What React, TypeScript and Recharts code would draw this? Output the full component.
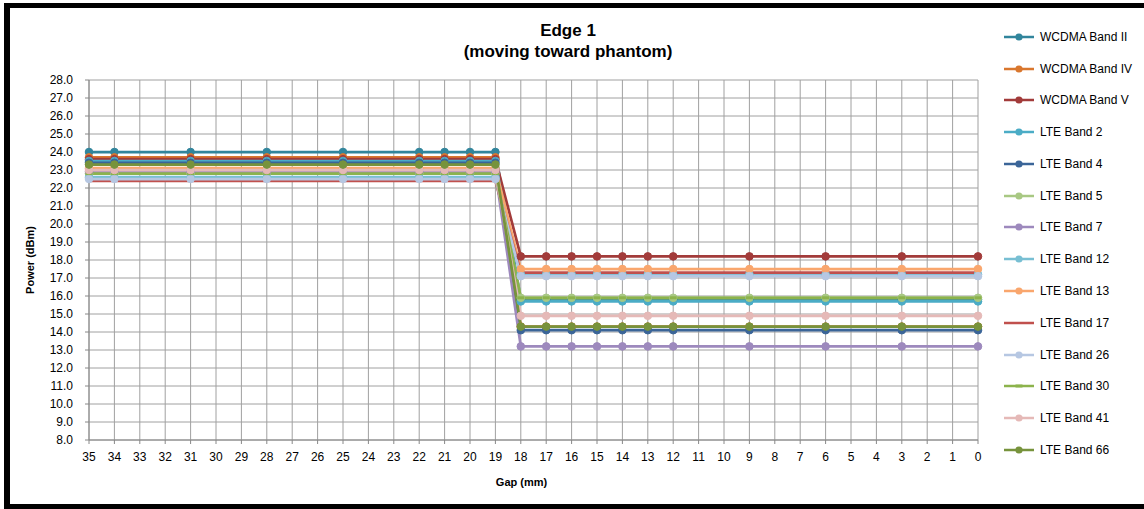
import { LineChart, Line, XAxis, YAxis, CartesianGrid } from "recharts"

// x axis categories, 35 mm down to 0 mm
const gapLabels = [
  "35", "34", "33", "32", "31", "30", "29", "28", "27", "26", "25", "24",
  "23", "22", "21", "20", "19", "18", "17", "16", "15", "14", "13", "12",
  "11", "10", "9", "8", "7", "6", "5", "4", "3", "2", "1", "0",
]

// gaps where a measurement was taken
const measuredGaps = ["35", "34", "31", "28", "25", "22", "21", "20", "19", "18", "17", "16", "15", "14", "13", "12", "9", "6", "3", "0"]

const wcdmaBandII = [24.0, 24.0, 24.0, 24.0, 24.0, 24.0, 24.0, 24.0, 24.0, 15.8, 15.8, 15.8, 15.8, 15.8, 15.8, 15.8, 15.8, 15.8, 15.8, 15.8]
const wcdmaBandIV = [23.7, 23.7, 23.7, 23.7, 23.7, 23.7, 23.7, 23.7, 23.7, 14.3, 14.3, 14.3, 14.3, 14.3, 14.3, 14.3, 14.3, 14.3, 14.3, 14.3]
const wcdmaBandV = [23.6, 23.6, 23.6, 23.6, 23.6, 23.6, 23.6, 23.6, 23.6, 18.2, 18.2, 18.2, 18.2, 18.2, 18.2, 18.2, 18.2, 18.2, 18.2, 18.2]
const lteBand2 = [23.5, 23.5, 23.5, 23.5, 23.5, 23.5, 23.5, 23.5, 23.5, 15.7, 15.7, 15.7, 15.7, 15.7, 15.7, 15.7, 15.7, 15.7, 15.7, 15.7]
const lteBand4 = [23.4, 23.4, 23.4, 23.4, 23.4, 23.4, 23.4, 23.4, 23.4, 14.1, 14.1, 14.1, 14.1, 14.1, 14.1, 14.1, 14.1, 14.1, 14.1, 14.1]
const lteBand5 = [22.8, 22.8, 22.8, 22.8, 22.8, 22.8, 22.8, 22.8, 22.8, 15.9, 15.9, 15.9, 15.9, 15.9, 15.9, 15.9, 15.9, 15.9, 15.9, 15.9]
const lteBand7 = [22.9, 22.9, 22.9, 22.9, 22.9, 22.9, 22.9, 22.9, 22.9, 13.2, 13.2, 13.2, 13.2, 13.2, 13.2, 13.2, 13.2, 13.2, 13.2, 13.2]
const lteBand12 = [22.6, 22.6, 22.6, 22.6, 22.6, 22.6, 22.6, 22.6, 22.6, 17.2, 17.2, 17.2, 17.2, 17.2, 17.2, 17.2, 17.2, 17.2, 17.2, 17.2]
const lteBand13 = [23.1, 23.1, 23.1, 23.1, 23.1, 23.1, 23.1, 23.1, 23.1, 17.5, 17.5, 17.5, 17.5, 17.5, 17.5, 17.5, 17.5, 17.5, 17.5, 17.5]
const lteBand17 = [22.4, 22.4, 22.4, 22.4, 22.4, 22.4, 22.4, 22.4, 22.4, 17.3, 17.3, 17.3, 17.3, 17.3, 17.3, 17.3, 17.3, 17.3, 17.3, 17.3]
const lteBand26 = [22.5, 22.5, 22.5, 22.5, 22.5, 22.5, 22.5, 22.5, 22.5, 17.1, 17.1, 17.1, 17.1, 17.1, 17.1, 17.1, 17.1, 17.1, 17.1, 17.1]
const lteBand30 = [22.8, 22.8, 22.8, 22.8, 22.8, 22.8, 22.8, 22.8, 22.8, 15.9, 15.9, 15.9, 15.9, 15.9, 15.9, 15.9, 15.9, 15.9, 15.9, 15.9]
const lteBand41 = [23.0, 23.0, 23.0, 23.0, 23.0, 23.0, 23.0, 23.0, 23.0, 14.9, 14.9, 14.9, 14.9, 14.9, 14.9, 14.9, 14.9, 14.9, 14.9, 14.9]
const lteBand66 = [23.3, 23.3, 23.3, 23.3, 23.3, 23.3, 23.3, 23.3, 23.3, 14.3, 14.3, 14.3, 14.3, 14.3, 14.3, 14.3, 14.3, 14.3, 14.3, 14.3]

const yTicks = [8, 9, 10, 11, 12, 13, 14, 15, 16, 17, 18, 19, 20, 21, 22, 23, 24, 25, 26, 27, 28]

type Marker = "circle" | "none" | "dash"
const series: { key: string; name: string; values: number[]; color: string; marker: Marker }[] = [
  { key: "wII", name: "WCDMA Band II", values: wcdmaBandII, color: "#31859c", marker: "circle" },
  { key: "wIV", name: "WCDMA Band IV", values: wcdmaBandIV, color: "#d9772e", marker: "circle" },
  { key: "wV", name: "WCDMA Band V", values: wcdmaBandV, color: "#a23b3a", marker: "circle" },
  { key: "b2", name: "LTE Band 2", values: lteBand2, color: "#4bacc6", marker: "circle" },
  { key: "b4", name: "LTE Band 4", values: lteBand4, color: "#3b6598", marker: "circle" },
  { key: "b5", name: "LTE Band 5", values: lteBand5, color: "#a8c883", marker: "circle" },
  { key: "b7", name: "LTE Band 7", values: lteBand7, color: "#9d89bd", marker: "circle" },
  { key: "b12", name: "LTE Band 12", values: lteBand12, color: "#78bfd3", marker: "circle" },
  { key: "b13", name: "LTE Band 13", values: lteBand13, color: "#f9a66d", marker: "circle" },
  { key: "b17", name: "LTE Band 17", values: lteBand17, color: "#c0504d", marker: "none" },
  { key: "b26", name: "LTE Band 26", values: lteBand26, color: "#b6c7e2", marker: "circle" },
  { key: "b30", name: "LTE Band 30", values: lteBand30, color: "#8cb34c", marker: "dash" },
  { key: "b41", name: "LTE Band 41", values: lteBand41, color: "#e5b9b7", marker: "circle" },
  { key: "b66", name: "LTE Band 66", values: lteBand66, color: "#77933c", marker: "circle" },
]

const chartData = gapLabels.map((gap) => {
  const row: Record<string, string | number | null> = { gap }
  const idx = measuredGaps.indexOf(gap)
  series.forEach((s) => {
    row[s.key] = idx >= 0 ? s.values[idx] : null
  })
  return row
})

const font = "'Liberation Sans', Arial, sans-serif"

function makeDot(color: string, marker: Marker) {
  if (marker === "none") return false
  return (props: any) => {
    const { cx, cy, index } = props
    if (cx == null || cy == null || props.value == null) return <g key={index} />
    if (marker === "dash")
      return <rect key={index} x={cx - 3.5} y={cy - 1.5} width={7} height={3} fill={color} />
    return <circle key={index} cx={cx} cy={cy} r={3.8} fill={color} stroke={color} />
  }
}

function ChartLegend() {
  return (
    <div style={{ position: "absolute", left: 1003, top: 21, width: 141, fontFamily: font, fontSize: 12, color: "#000" }}>
      {series.map((s) => (
        <div key={s.key} style={{ height: 31.77, display: "flex", alignItems: "center" }}>
          <svg width={34} height={10} style={{ marginRight: 3 }}>
            <line x1={1} y1={5} x2={31} y2={5} stroke={s.color} strokeWidth={2.5} />
            {s.marker === "circle" && <circle cx={16} cy={5} r={3.6} fill={s.color} />}
            {s.marker === "dash" && <rect x={12.5} y={3.5} width={7} height={3} fill={s.color} />}
          </svg>
          <span style={{ whiteSpace: "nowrap" }}>{s.name}</span>
        </div>
      ))}
    </div>
  )
}

export default function App() {
  return (
    <div style={{ position: "absolute", left: 0, top: 0, width: 1144, height: 509, background: "#fff", overflow: "hidden" }}>
      <div
        style={{
          position: "absolute", left: 4, top: 3, width: 1160, height: 506,
          boxSizing: "border-box", border: "5px solid #000", borderLeftWidth: 6,
        }}
      />
      <div
        style={{
          position: "absolute", left: 368, width: 400, top: 20, textAlign: "center",
          fontFamily: font, fontWeight: "bold", fontSize: 17, lineHeight: "21px", color: "#000",
        }}
      >
        <div>Edge 1</div>
        <div>(moving toward phantom)</div>
      </div>
      <LineChart
        width={1144}
        height={509}
        data={chartData}
        margin={{ top: 80, right: 166, bottom: 0, left: 0 }}
        style={{ position: "absolute", left: 0, top: 0 }}
      >
        <CartesianGrid stroke="#a0a0a0" strokeWidth={1} />
        <XAxis
          dataKey="gap"
          interval={0}
          height={69}
          tickSize={4}
          tickMargin={8}
          stroke="#888"
          tick={{ fontSize: 12, fill: "#000", fontFamily: font }}
          label={{ value: "Gap (mm)", position: "insideBottom", offset: 23, dx: -12, fontSize: 11, fontWeight: "bold", fill: "#000", fontFamily: font }}
        />
        <YAxis
          width={89}
          domain={[8, 28]}
          ticks={yTicks}
          interval={0}
          tickSize={4}
          tickMargin={12}
          stroke="#888"
          tickFormatter={(v: number) => v.toFixed(1)}
          tick={{ fontSize: 12, fill: "#000", fontFamily: font }}
          label={{ value: "Power (dBm)", angle: -90, position: "insideLeft", offset: 30, fontSize: 11, fontWeight: "bold", fill: "#000", fontFamily: font, style: { textAnchor: "middle" } }}
        />
        {series.map((s) => (
          <Line
            key={s.key}
            dataKey={s.key}
            name={s.name}
            type="linear"
            stroke={s.color}
            strokeWidth={2.75}
            connectNulls
            dot={makeDot(s.color, s.marker)}
            activeDot={false}
            isAnimationActive={false}
          />
        ))}
      </LineChart>
      <ChartLegend />
    </div>
  )
}
